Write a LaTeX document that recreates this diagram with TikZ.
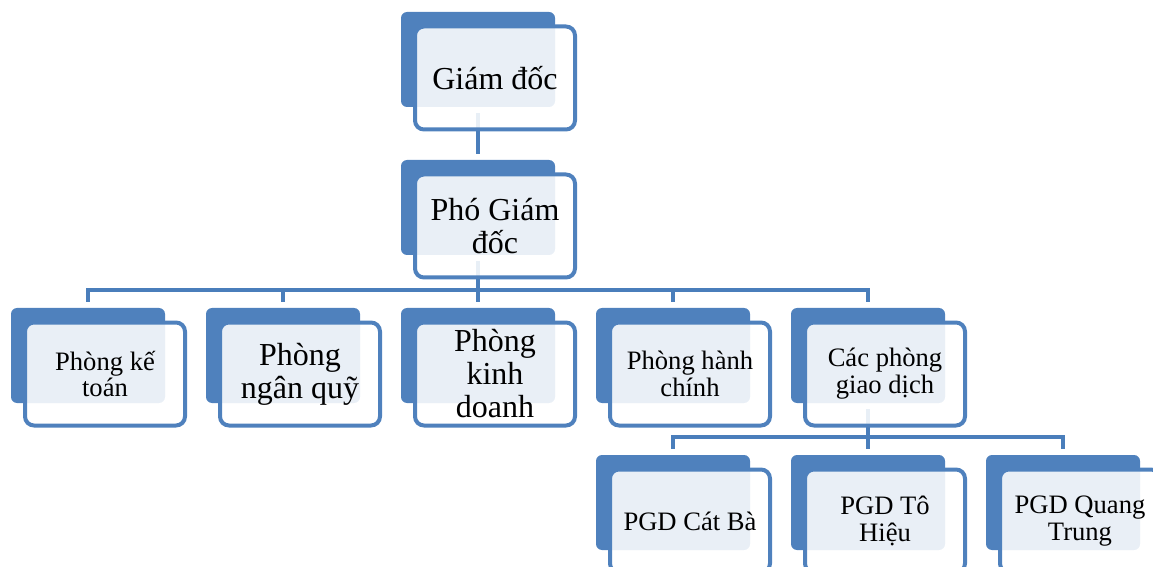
\documentclass[tikz,border=0pt]{standalone}
\usepackage{fontspec}
\setmainfont{Liberation Serif}
\pgfdeclarelayer{bg}
\pgfsetlayers{bg,main}
\definecolor{dkblue}{HTML}{4F81BD}
\definecolor{lnblue}{HTML}{4A7EBB}
\newcommand\orgbox[5]{%
  \node[back] (#1d) at (#2+77,#3+47.5) {};
  \node[front,#4] (#1) at (#2+94,#3+66) {#5};}
\begin{document}
\begin{tikzpicture}[x=0.5pt,y=-0.5pt,
  back/.style={rectangle, rounded corners=3pt, fill=dkblue, minimum width=77pt, minimum height=47.5pt, inner sep=0pt},
  front/.style={rectangle, rounded corners=4.5pt, draw=dkblue, line width=2pt, fill=white, fill opacity=0.88, draw opacity=1, text opacity=1, minimum width=80pt, minimum height=51.5pt, align=center, inner sep=0pt},
  big/.style={font=\fontsize{16}{16.5}\selectfont},
  small/.style={font=\fontsize{13.3}{13.4}\selectfont},
  conn/.style={draw=lnblue, line width=2pt}]
\useasboundingbox (0,0) rectangle (1153,567);
\begin{scope}
\clip (0,0) rectangle (1153,567);
\orgbox{A}{401}{12}{big}{Giám đốc}
\orgbox{B}{401}{160}{big}{Phó Giám\\đốc}
\orgbox{C1}{11}{308}{small}{Phòng kế\\toán}
\orgbox{C2}{206}{308}{big}{Phòng\\ngân quỹ}
\orgbox{C3}{401}{308}{big}{Phòng\\kinh\\doanh}
\orgbox{C4}{596}{308}{small}{Phòng hành\\chính}
\orgbox{C5}{791}{308}{small}{Các phòng\\giao dịch}
\orgbox{D1}{596}{455}{small}{PGD Cát Bà}
\orgbox{D2}{791}{455}{small}{PGD Tô\\Hiệu}
\orgbox{D3}{986}{455}{small}{PGD Quang\\Trung}
\end{scope}
\coordinate (bus1) at (478,290);
\coordinate (bus2) at (868,437);
\begin{pgfonlayer}{bg}
\draw[conn] ([yshift=-3pt]Ad.south) -- ([yshift=3pt]Bd.north);
\draw[conn] ([yshift=-3pt]Bd.south) -- (bus1 -| Bd.south);
\draw[conn,line cap=rect] (bus1 -| C1d.north) -- (bus1 -| C5d.north);
\foreach \n in {C1d,C2d,C3d,C4d,C5d}
  \draw[conn] (bus1 -| \n.north) -- ([yshift=3pt]\n.north);
\draw[conn] ([yshift=-3pt]C5d.south) -- (bus2 -| C5d.south);
\draw[conn,line cap=rect] (bus2 -| D1d.north) -- (bus2 -| D3d.north);
\foreach \n in {D1d,D2d,D3d}
  \draw[conn] (bus2 -| \n.north) -- ([yshift=3pt]\n.north);
\end{pgfonlayer}
\end{tikzpicture}
\end{document}
